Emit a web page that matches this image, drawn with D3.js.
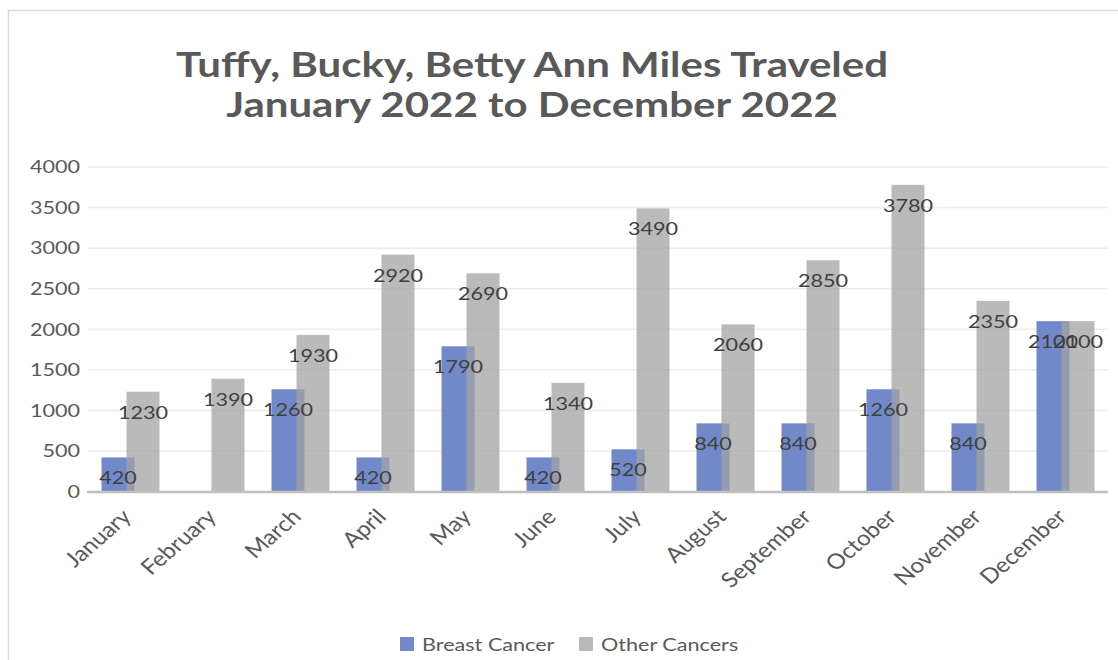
<!DOCTYPE html>
<html>
<head>
<meta charset="utf-8">
<script src="https://cdn.jsdelivr.net/npm/d3@7"></script>
<style>
  body { margin: 0; background: #fff; }
  text { font-family: Lato, "Open Sans", sans-serif; }
</style>
</head>
<body>
<svg id="chart"></svg>
<script>
// chart data
const months = ["January", "February", "March", "April", "May", "June",
  "July", "August", "September", "October", "November", "December"];
const breastCancer = [420, null, 1260, 420, 1790, 420, 520, 840, 840, 1260, 840, 2100];
const otherCancers = [1230, 1390, 1930, 2920, 2690, 1340, 3490, 2060, 2850, 3780, 2350, 2100];
const yTicks = [0, 500, 1000, 1500, 2000, 2500, 3000, 3500, 4000];
const seriesNames = ["Breast Cancer", "Other Cancers"];
const titleLines = ["Tuffy, Bucky, Betty Ann Miles Traveled", "January 2022 to December 2022"];

const width = 1118, height = 660;
const margin = { top: 167, right: 10, bottom: 168.5, left: 88 };
const blue = "#7189c9", grey = "#a3a3a3";
// the source picture is stretched sideways, so text gets the same stretch
const stretch = 1.2;

const svg = d3.select("#chart")
  .attr("width", width)
  .attr("height", height);

// outer chart frame (cropped on right and bottom)
svg.append("rect")
  .attr("x", 8.5).attr("y", 10.5)
  .attr("width", width + 20).attr("height", height + 20)
  .attr("fill", "#fff")
  .attr("stroke", "#d9d9d9")
  .attr("stroke-width", 1.5);

// title
svg.append("g").selectAll("text")
  .data(titleLines)
  .enter()
  .append("text")
  .attr("transform", (d, i) => `translate(532,${77 + i * 40}) scale(${stretch},1)`)
  .attr("text-anchor", "middle")
  .attr("font-size", 35)
  .attr("font-weight", "bold")
  .attr("fill", "#595959")
  .text(d => d);

// scales
const x = d3.scaleBand()
  .domain(months)
  .range([margin.left, width - margin.right])
  .paddingInner(0.318)
  .paddingOuter(0.159);

const barWidth = 33;
const barShift = x.bandwidth() - barWidth;

const y = d3.scaleLinear()
  .domain([0, 4000])
  .range([height - margin.bottom, margin.top]);

// gridlines
svg.append("g").selectAll("line")
  .data(yTicks.filter(d => d > 0))
  .enter()
  .append("line")
  .attr("x1", margin.left)
  .attr("x2", width - margin.right)
  .attr("y1", d => y(d))
  .attr("y2", d => y(d))
  .attr("stroke", "#ececec")
  .attr("stroke-width", 1.5);

// y axis labels
const yAxis = svg.append("g")
  .attr("transform", `translate(${margin.left},0)`)
  .call(d3.axisLeft(y).tickValues(yTicks).tickFormat(d3.format("d")).tickSize(0).tickPadding(8));
yAxis.select(".domain").remove();
yAxis.selectAll("text")
  .attr("x", -8 / stretch)
  .attr("transform", `scale(${stretch},1)`)
  .attr("font-family", "Lato, sans-serif")
  .attr("font-size", 18)
  .attr("fill", "#595959");

// bars: breast cancer first, other cancers drawn over it with some transparency
const breastData = months.map((m, i) => ({ month: m, value: breastCancer[i] })).filter(d => d.value != null);
const otherData = months.map((m, i) => ({ month: m, value: otherCancers[i] }));

svg.append("g").selectAll("rect")
  .data(breastData)
  .enter()
  .append("rect")
  .attr("x", d => x(d.month))
  .attr("y", d => y(d.value))
  .attr("width", barWidth)
  .attr("height", d => y(0) - y(d.value))
  .attr("fill", blue);

svg.append("g").selectAll("rect")
  .data(otherData)
  .enter()
  .append("rect")
  .attr("x", d => x(d.month) + barShift)
  .attr("y", d => y(d.value))
  .attr("width", barWidth)
  .attr("height", d => y(0) - y(d.value))
  .attr("fill", grey)
  .attr("fill-opacity", 0.75);

// x axis baseline
svg.append("line")
  .attr("x1", margin.left - 1)
  .attr("x2", width - margin.right)
  .attr("y1", y(0) + 0.5)
  .attr("y2", y(0) + 0.5)
  .attr("stroke", "#bfbfbf")
  .attr("stroke-width", 2.5);

// data labels (inside end)
svg.append("g").selectAll("text")
  .data(breastData)
  .enter()
  .append("text")
  .attr("transform", d => `translate(${x(d.month) + barWidth / 2},${y(d.value) + 27}) scale(${stretch},1)`)
  .attr("text-anchor", "middle")
  .attr("font-size", 18)
  .attr("fill", "#404040")
  .text(d => d.value);

svg.append("g").selectAll("text")
  .data(otherData)
  .enter()
  .append("text")
  .attr("transform", d => `translate(${x(d.month) + barShift + barWidth / 2},${y(d.value) + 27}) scale(${stretch},1)`)
  .attr("text-anchor", "middle")
  .attr("font-size", 18)
  .attr("fill", "#404040")
  .text(d => d.value);

// month labels rotated -45
svg.append("g").selectAll("text")
  .data(months)
  .enter()
  .append("text")
  .attr("transform", d => `translate(${x(d) + x.bandwidth() / 2 - 10},${y(0) + 16}) scale(1.15,1) rotate(-45)`)
  .attr("text-anchor", "end")
  .attr("dy", "0.71em")
  .attr("font-size", 21)
  .attr("fill", "#595959")
  .text(d => d);

// legend
const legend = svg.append("g")
  .attr("transform", "translate(400,637)");
const legendX = [0, 179];
const legendItem = legend.selectAll("g")
  .data(seriesNames)
  .enter()
  .append("g")
  .attr("transform", (d, i) => `translate(${legendX[i]},0)`);
legendItem.append("rect")
  .attr("width", 14)
  .attr("height", 14)
  .attr("fill", (d, i) => i === 0 ? blue : "#b9b9b9");
legendItem.append("text")
  .attr("transform", `translate(22,14) scale(${stretch},1)`)
  .attr("font-size", 18)
  .attr("fill", "#595959")
  .text(d => d);
</script>
</body>
</html>
